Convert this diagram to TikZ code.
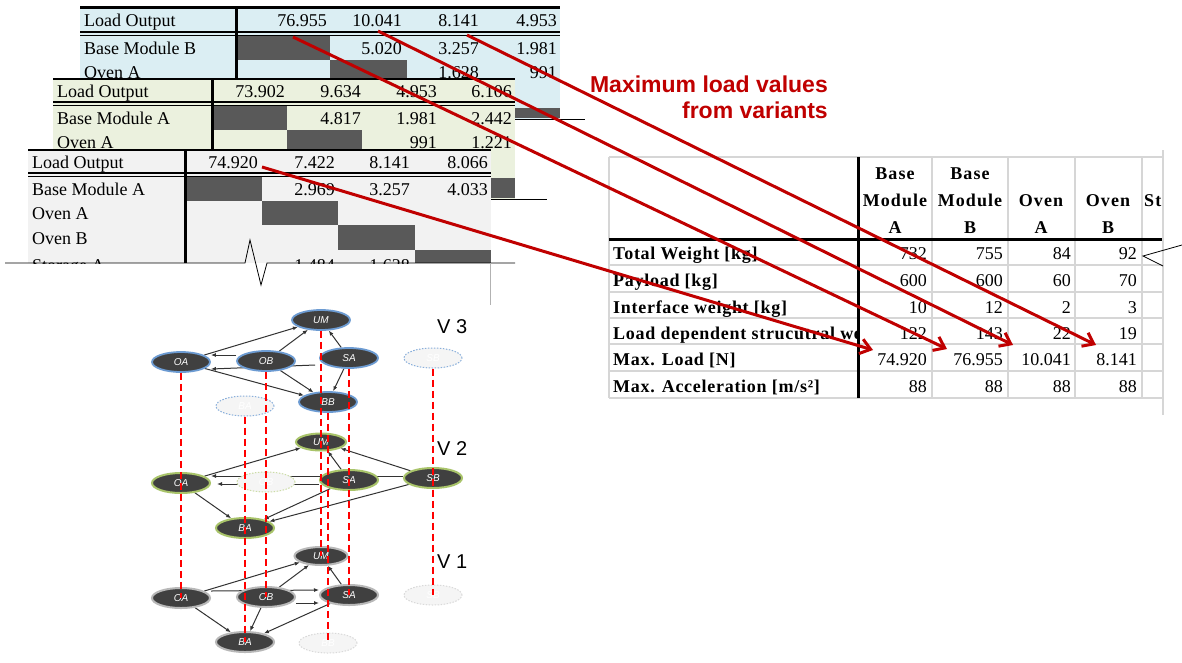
\documentclass[tikz,border=0pt]{standalone}
\usepackage{fontspec}
\setmainfont{Liberation Serif}
\newfontfamily\arialf{Liberation Sans}
\usetikzlibrary{arrows.meta,shapes.geometric}
\definecolor{tblblue}{HTML}{DBEEF3}
\definecolor{tblbeige}{HTML}{EBF1DE}
\definecolor{tblgray}{HTML}{F2F2F2}
\definecolor{darkcell}{HTML}{595959}
\definecolor{darkred}{HTML}{C00000}
\definecolor{gridgray}{HTML}{D6D6D6}
\definecolor{nodefill}{HTML}{404040}
\definecolor{vthree}{HTML}{6C9BD2}
\definecolor{vtwo}{HTML}{A9C46A}
\definecolor{vone}{HTML}{B8B8B8}
\pgfdeclarelayer{bg}
\pgfsetlayers{bg,main}
\tikzset{
  tt/.style={font=\fontsize{18}{20}\selectfont, inner sep=0pt},
  lbl/.style={tt, anchor=base west},
  val/.style={tt, anchor=base east},
  blbl/.style={font=\bfseries\fontsize{18}{20}\selectfont\addfontfeature{LetterSpace=4}, inner sep=0pt, anchor=base west},
  hdr/.style={font=\bfseries\fontsize{18}{20}\selectfont\addfontfeature{LetterSpace=6}, inner sep=0pt, anchor=base},
  grid/.style={draw=gridgray, line width=2pt},
  gbase/.style={ellipse, minimum width=58pt, minimum height=20pt, inner sep=0pt,
     font=\arialf\itshape\fontsize{10}{11}\selectfont, text=white},
  gn3/.style={gbase, fill=nodefill, draw=vthree, line width=1.8pt},
  gn2/.style={gbase, fill=nodefill, draw=vtwo, line width=2pt},
  gn1/.style={gbase, fill=nodefill, draw=vone, line width=2pt},
  fn3/.style={gbase, fill=black!4, draw=vthree!80, line width=1pt, dash pattern=on 1.5pt off 1.5pt},
  fn2/.style={gbase, fill=black!4, draw=vtwo!60, line width=1pt, dash pattern=on 1.5pt off 1.5pt},
  fn1/.style={gbase, fill=black!4, draw=black!15, line width=1pt, dash pattern=on 1.5pt off 1.5pt},
  gedge/.style={draw=black!80, line width=1pt, -{Latex[length=5pt,width=4pt]}},
  rdash/.style={draw=red, line width=2.8pt, dash pattern=on 7pt off 4pt},
  redarr/.style={draw=darkred, line width=3pt, -{Straight Barb[length=10pt,width=15pt]}},
  vlab/.style={font=\arialf\fontsize{20}{22}\selectfont, inner sep=0pt, anchor=base west},
}
\begin{document}
\begin{tikzpicture}[x=1pt,y=-1pt]
\begin{pgfonlayer}{bg}
\fill[white] (0,0) rectangle (1182,662);
\end{pgfonlayer}
\useasboundingbox (0,0) rectangle (1182,662);

% ---------- Table 1 (blue) ----------
\begin{scope}
\clip (80,0) rectangle (561,119);
\fill[tblblue] (80,8) rectangle (560,119);
\fill[darkcell] (236,36) rectangle (330,60);
\fill[darkcell] (330,60) rectangle (407,84);
\fill[darkcell] (407,84) rectangle (483,108);
\fill[darkcell] (483,108) rectangle (560,118);
\draw[line width=2.5pt] (80,7.5) -- (560,7.5);
\draw[line width=2pt] (80,32) -- (560,32);
\draw[line width=1pt] (80,35.5) -- (560,35.5);
\draw[line width=3pt] (236,8) -- (236,119);
\node[lbl] (t1h) at (84,26) {Load Output};
\node[val] (t1a) at (327,26) {76.955};
\node[val] (t1b) at (402,26) {10.041};
\node[val] (t1c) at (479,26) {8.141};
\node[val] (t1d) at (557,26) {4.953};
\node[lbl] (t1r1) at (84,54) {Base Module B};
\node[val] (t1r1b) at (402,54) {5.020};
\node[val] (t1r1c) at (479,54) {3.257};
\node[val] (t1r1d) at (557,54) {1.981};
\node[lbl] (t1r2) at (84,78.5) {Oven A};
\node[val] (t1r2c) at (479,78.5) {1.628};
\node[val] (t1r2d) at (557,78.5) {991};
\end{scope}
\draw[line width=0.8pt] (80,119) -- (585,119);

% ---------- Table 2 (beige) ----------
\begin{scope}
\clip (53,77) rectangle (516,199);
\fill[tblbeige] (53,79) rectangle (515,199);
\fill[darkcell] (212,106) rectangle (287,130);
\fill[darkcell] (287,130) rectangle (362,154);
\fill[darkcell] (362,154) rectangle (437,178);
\fill[darkcell] (437,178) rectangle (515,198);
\draw[line width=2.5pt] (53,79) -- (515,79);
\draw[line width=2pt] (53,102) -- (515,102);
\draw[line width=1pt] (53,105.5) -- (515,105.5);
\draw[line width=3pt] (212,79) -- (212,199);
\node[lbl] (t2h) at (57,97) {Load Output};
\node[val] (t2a) at (285,97) {73.902};
\node[val] (t2b) at (361,97) {9.634};
\node[val] (t2c) at (437,97) {4.953};
\node[val] (t2d) at (512,97) {6.106};
\node[lbl] (t2r1) at (57,124) {Base Module A};
\node[val] (t2r1b) at (361,124) {4.817};
\node[val] (t2r1c) at (437,124) {1.981};
\node[val] (t2r1d) at (512,124) {2.442};
\node[lbl] (t2r2) at (57,148) {Oven A};
\node[val] (t2r2c) at (437,148) {991};
\node[val] (t2r2d) at (512,148) {1.221};
\end{scope}
\draw[line width=0.8pt] (53,199) -- (547,199);

% ---------- Table 3 (gray) ----------
\begin{scope}
\clip (28,148) rectangle (492,263);
\fill[tblgray] (28,150) rectangle (491,263);
\fill[darkcell] (185,177) rectangle (262,201);
\fill[darkcell] (262,201) rectangle (338,225);
\fill[darkcell] (338,225) rectangle (415,250);
\fill[darkcell] (415,250) rectangle (491,263);
\draw[line width=2.5pt] (28,150) -- (491,150);
\draw[line width=2pt] (28,173) -- (491,173);
\draw[line width=1pt] (28,176.5) -- (491,176.5);
\draw[line width=3pt] (185,150) -- (185,263);
\node[lbl] (t3h) at (32,168) {Load Output};
\node[val] (t3a) at (258,168) {74.920};
\node[val] (t3b) at (335,168) {7.422};
\node[val] (t3c) at (410,168) {8.141};
\node[val] (t3d) at (488,168) {8.066};
\node[lbl] (t3r1) at (32,195) {Base Module A};
\node[val] (t3r1b) at (335,195) {2.969};
\node[val] (t3r1c) at (410,195) {3.257};
\node[val] (t3r1d) at (488,195) {4.033};
\node[lbl] (t3r2) at (32,219) {Oven A};
\node[lbl] (t3r3) at (32,244) {Oven B};
\node[lbl] (t3r4) at (32,271) {Storage A};
\node[val] (t3r4b) at (335,271) {1.484};
\node[val] (t3r4c) at (410,271) {1.628};
\end{scope}
\draw[line width=0.8pt] (5,263) -- (245,263) -- (250,240) -- (261,285) -- (267,263) -- (515,263);
\draw[black!30, line width=0.6pt] (490,263) -- (490,305);

% ---------- Right table ----------
\foreach \y in {265,292,318,344,371} \draw[grid] (609,\y) -- (1162,\y);
\foreach \x in {932,1008,1075,1142} \draw[grid] (\x,157) -- (\x,398);
\draw[grid] (609,157) -- (1162,157);
\draw[grid] (609,157) -- (609,398);
\draw[grid] (609,398) -- (1162,398);
\draw[grid] (1163,150) -- (1163,415);
\draw[line width=3pt] (858,157) -- (858,398);
\draw[line width=3pt] (609,239) -- (1162,239);
\draw[line width=0.8pt] (1182,245) -- (1143,256) -- (1163,266);

\node[hdr] (h1a) at (895,179) {Base};
\node[hdr] (h1b) at (895,206) {Module};
\node[hdr] (h1c) at (895,233) {A};
\node[hdr] (h2a) at (970,179) {Base};
\node[hdr] (h2b) at (970,206) {Module};
\node[hdr] (h2c) at (970,233) {B};
\node[hdr] (h3a) at (1041,206) {Oven};
\node[hdr] (h3b) at (1041,233) {A};
\node[hdr] (h4a) at (1108,206) {Oven};
\node[hdr] (h4b) at (1108,233) {B};
\begin{scope}
\clip (1140,160) rectangle (1161,238);
\node[hdr, anchor=base west] (h5) at (1144,206) {St};
\end{scope}

\begin{scope}
\clip (609,240) rectangle (856.5,398);
\node[blbl] (r1) at (613,259) {Total Weight [kg]};
\node[blbl] (r2) at (613,286) {Payload [kg]};
\node[blbl] (r3) at (613,313) {Interface weight [kg]};
\node[blbl] (r4) at (613,339) {Load dependent strucutral we};
\node[blbl] (r5) at (613,365) {Max. Load [N]};
\node[blbl] (r6) at (613,392) {Max. Acceleration [m/s²]};
\end{scope}

\node[val] (c11) at (927,259) {732};
\node[val] (c12) at (1003,259) {755};
\node[val] (c13) at (1071,259) {84};
\node[val] (c14) at (1137,259) {92};
\node[val] (c21) at (927,286) {600};
\node[val] (c22) at (1003,286) {600};
\node[val] (c23) at (1071,286) {60};
\node[val] (c24) at (1137,286) {70};
\node[val] (c31) at (927,313) {10};
\node[val] (c32) at (1003,313) {12};
\node[val] (c33) at (1071,313) {2};
\node[val] (c34) at (1137,313) {3};
\node[val] (c41) at (927,339) {122};
\node[val] (c42) at (1003,339) {143};
\node[val] (c43) at (1071,339) {22};
\node[val] (c44) at (1137,339) {19};
\node[val] (c51) at (927,365) {74.920};
\node[val] (c52) at (1003,365) {76.955};
\node[val] (c53) at (1071,365) {10.041};
\node[val] (c54) at (1137,365) {8.141};
\node[val] (c61) at (927,392) {88};
\node[val] (c62) at (1003,392) {88};
\node[val] (c63) at (1071,392) {88};
\node[val] (c64) at (1137,392) {88};

% ---------- Caption ----------
\node[font=\arialf\bfseries\fontsize{23}{26}\selectfont, text=darkred, inner sep=0pt, anchor=base east] (cap1) at (828,92) {Maximum load values};
\node[font=\arialf\bfseries\fontsize{23}{26}\selectfont, text=darkred, inner sep=0pt, anchor=base east] (cap2) at (828,118) {from variants};

% ---------- Graph ----------
% V3
\node[gn3] (um3) at (321,320) {UM};
\node[gn3] (oa3) at (181,362) {OA};
\node[gn3] (ob3) at (266,361) {OB};
\node[gn3] (sa3) at (349,358) {SA};
\node[fn3] (sb3) at (433,358) {SB};
\node[fn3] (ba3) at (245,406) {BA};
\node[gn3] (bb3) at (328,402) {BB};
% V2
\node[gn2, minimum width=50pt, minimum height=17pt] (um2) at (321,442) {UM};
\node[gn2] (oa2) at (181,483) {OA};
\node[fn2] (ob2) at (266,482) {OB};
\node[gn2] (sa2) at (349,480) {SA};
\node[gn2] (sb2) at (433,478) {SB};
\node[gn2] (ba2) at (245,528) {BA};
% V1
\node[gn1, minimum width=53pt, minimum height=18pt] (um1) at (321,556) {UM};
\node[gn1] (oa1) at (181,598) {OA};
\node[gn1] (ob1) at (266,597) {OB};
\node[gn1] (sa1) at (349,595) {SA};
\node[fn1] (sb1) at (433,595) {SB};
\node[gn1] (ba1) at (245,642) {BA};
\node[fn1] (bb1) at (328,643) {BB};

\begin{pgfonlayer}{bg}
% V3 edges
\draw[gedge] (oa3) -- (um3);
\draw[gedge] (ob3) -- (um3);
\draw[gedge] (sa3) -- (um3);
\draw[gedge] ([yshift=6pt]ob3.west) -- ([yshift=7pt]oa3.east);
\draw[gedge] ([xshift=-4pt,yshift=-7pt]sa3.west) -- ([yshift=-7pt]oa3.east);
\draw[gedge] (oa3) -- (bb3);
\draw[gedge] (ob3) -- (bb3);
\draw[gedge] (sa3) -- (bb3);
% V2 edges
\draw[gedge] (oa2) -- (um2);
\draw[gedge] (sa2) -- (um2);
\draw[gedge] (sb2) -- (um2);
\draw[gedge] ([yshift=2pt]sb2.west) -- ([yshift=7pt]oa2.east);
\draw[gedge] ([yshift=-4pt]sa2.west) -- ([xshift=6pt,yshift=-1pt]oa2.east);
\draw[gedge] (oa2) -- (ba2);
\draw[gedge] (sa2) -- (ba2);
\draw[gedge] (sb2) -- (ba2);
% V1 edges
\draw[gedge] (oa1) -- (um1);
\draw[gedge] (ob1) -- (um1);
\draw[gedge] (sa1) -- (um1);
\draw[gedge] ([yshift=7pt]oa1.east) -- ([yshift=5pt]sa1.west);
\draw[gedge] ([yshift=-6pt]ob1.east) -- ([yshift=-8pt]sa1.west);
\draw[gedge] (oa1) -- (ba1);
\draw[gedge] (ob1) -- (ba1);
\draw[gedge] (sa1) -- (ba1);
\end{pgfonlayer}

% red dashed verticals
\draw[rdash] (oa3.south) -- (oa1.center);
\draw[rdash] (ba3.south) -- (ba1.center);
\draw[rdash] (ob3.south) -- (ob1.center);
\draw[rdash] (um3.south) -- (um1.center);
\draw[rdash] (bb3.south) -- (bb1.center);
\draw[rdash] (sa3.south) -- (sa1.center);
\draw[rdash] (sb3.south) -- (sb1.center);

\node[vlab] (v3) at (437,333) {V 3};
\node[vlab] (v2) at (437,455) {V 2};
\node[vlab] (v1) at (437,568) {V 1};

% ---------- Red arrows ----------
\coordinate (s1) at (262,167);
\coordinate (e1) at (873,350);
\coordinate (s2) at (293,37);
\coordinate (e2) at (947,349);
\coordinate (s3) at (378,31);
\coordinate (e3) at (1013,345);
\coordinate (s4) at (467,35);
\coordinate (e4) at (1096,345);
\draw[redarr] (s1) -- (e1);
\draw[redarr] (s2) -- (e2);
\draw[redarr] (s3) -- (e3);
\draw[redarr] (s4) -- (e4);
\end{tikzpicture}
\end{document}
